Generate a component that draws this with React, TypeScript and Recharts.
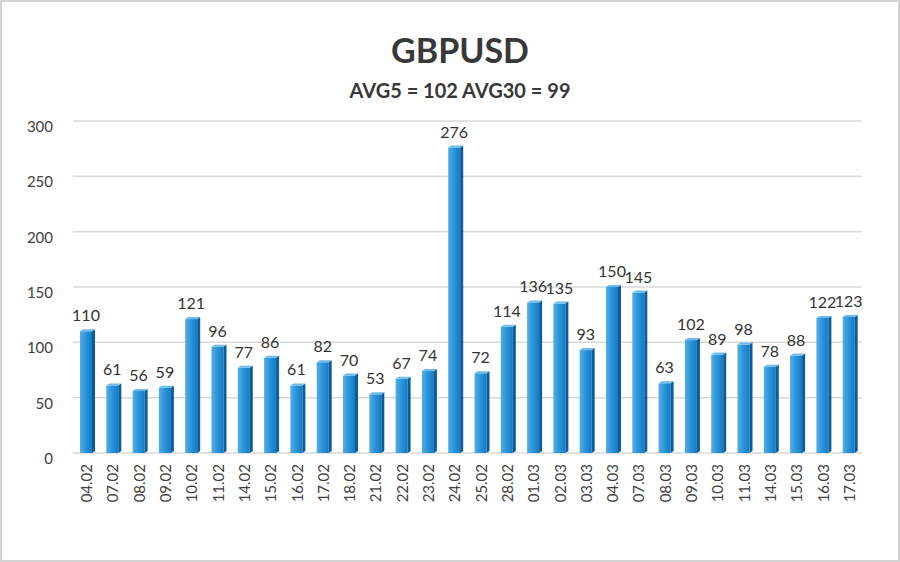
import { BarChart, Bar, XAxis, YAxis, CartesianGrid, LabelList } from "recharts";

const dates = [
    "04.02", "07.02", "08.02", "09.02", "10.02", "11.02", "14.02", "15.02", "16.02", "17.02",
    "18.02", "21.02", "22.02", "23.02", "24.02", "25.02", "28.02", "01.03", "02.03", "03.03",
    "04.03", "07.03", "08.03", "09.03", "10.03", "11.03", "14.03", "15.03", "16.03", "17.03",
];

const volatility = [
    110, 61, 56, 59, 121, 96, 77, 86, 61, 82,
    70, 53, 67, 74, 276, 72, 114, 136, 135, 93,
    150, 145, 63, 102, 89, 98, 78, 88, 122, 123,
];

const yTicks = [0, 50, 100, 150, 200, 250, 300];

const title = "GBPUSD";
const subtitle = "AVG5 = 102 AVG30 = 99";

const chartData = dates.map((d, i) => ({ date: d, value: volatility[i] }));

const FONT = "Lato, 'Open Sans', sans-serif";

// bar with a darker right face and a light top, like the 3D column in the source
const Column3D = (props: any) => {
    const { x, y, width, height, index } = props;
    if (height <= 0) return null;
    const side = 3;
    const lift = 2;
    const gid = `barFront${index}`;
    return (
        <g>
            <defs>
                <linearGradient id={gid} x1="0" y1="0" x2="1" y2="0">
                    <stop offset="0%" stopColor="#52aee6" />
                    <stop offset="50%" stopColor="#2a93d8" />
                    <stop offset="100%" stopColor="#127bc4" />
                </linearGradient>
            </defs>
            <rect x={x} y={y} width={width} height={height} fill={`url(#${gid})`} />
            <polygon
                points={`${x + width},${y} ${x + width + side},${y - lift} ${x + width + side},${y + height - lift} ${x + width},${y + height}`}
                fill="#0b5c98"
            />
            <polygon
                points={`${x},${y} ${x + side},${y - lift} ${x + width + side},${y - lift} ${x + width},${y}`}
                fill="#6dbbea"
            />
        </g>
    );
};

const DateTick = (props: any) => {
    const { x, y, payload } = props;
    return (
        <text
            x={x}
            y={y}
            transform={`rotate(-90, ${x}, ${y})`}
            textAnchor="end"
            dominantBaseline="central"
            fontSize={15}
            fontFamily={FONT}
            fill="#404040"
        >
            {payload.value}
        </text>
    );
};

const ValueTick = (props: any) => {
    const { x, y, payload } = props;
    return (
        <text x={x} y={y + 5} textAnchor="end" dominantBaseline="central" fontSize={15} fontFamily={FONT} fill="#404040">
            {payload.value}
        </text>
    );
};

export default function App() {
    return (
        <div
            style={{
                position: "absolute",
                left: 0,
                top: 0,
                width: 900,
                height: 562,
                background: "#fff",
                boxSizing: "border-box",
                border: "2px solid #d4d4d4",
                fontFamily: FONT,
            }}
        >
            <div
                style={{
                    position: "absolute",
                    top: 27,
                    left: 10,
                    width: "100%",
                    textAlign: "center",
                    fontSize: 34,
                    fontWeight: 700,
                    color: "#383838",
                }}
            >
                {title}
            </div>
            <div
                style={{
                    position: "absolute",
                    top: 76,
                    left: 10,
                    width: "100%",
                    textAlign: "center",
                    fontSize: 20,
                    fontWeight: 700,
                    color: "#383838",
                }}
            >
                {subtitle}
            </div>
            <div style={{ position: "absolute", left: -2, top: -2 }}>
                <BarChart
                    width={900}
                    height={562}
                    data={chartData}
                    margin={{ top: 121, right: 38, bottom: 50, left: 0 }}
                    barSize={12}
                >
                    <CartesianGrid vertical={false} stroke="#d9d9d9" strokeWidth={1.5} />
                    <XAxis
                        dataKey="date"
                        interval={0}
                        height={59}
                        axisLine={false}
                        tickLine={false}
                        tickSize={0}
                        tickMargin={11}
                        tick={<DateTick />}
                    />
                    <YAxis
                        domain={[0, 300]}
                        ticks={yTicks}
                        width={73}
                        axisLine={false}
                        tickLine={false}
                        tickSize={0}
                        tickMargin={20}
                        tick={<ValueTick />}
                    />
                    <Bar dataKey="value" shape={<Column3D />} isAnimationActive={false}>
                        <LabelList
                            dataKey="value"
                            position="top"
                            offset={10}
                            style={{ fontSize: 16, fontFamily: FONT, fill: "#333" }}
                        />
                    </Bar>
                </BarChart>
            </div>
        </div>
    );
}
